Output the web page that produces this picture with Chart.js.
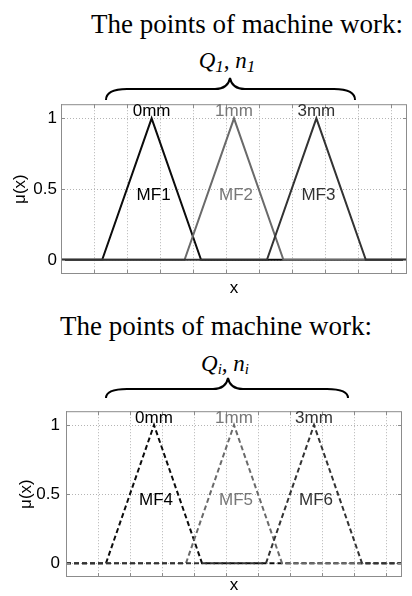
<!DOCTYPE html>
<html>
<head>
<meta charset="utf-8">
<script src="https://cdn.jsdelivr.net/npm/chart.js@4"></script>
<style>
  html, body { margin: 0; padding: 0; background: #fff; }
  #wrap { position: relative; width: 412px; height: 596px; overflow: hidden; }
  canvas { position: absolute; left: 0; }
  #c1 { top: 90px; }
  #c2 { top: 395px; }
  svg { position: absolute; left: 0; top: 0; }
</style>
</head>
<body>
<div id="wrap">
  <svg width="412" height="596" font-family="Liberation Serif" fill="#000">
    <text x="247" y="33" text-anchor="middle" font-size="27">The points of machine work:</text>
    <text x="227" y="68" text-anchor="middle" font-size="23" font-style="italic">Q<tspan font-size="17" dy="4">1</tspan><tspan dy="-4">, n</tspan><tspan font-size="17" dy="4">1</tspan></text>
    <path d="M106,100 Q106,89 127,89 L215,89 Q228,89 230,78 Q232,89 245,89 L334,89 Q355,89 355,100" fill="none" stroke="#000" stroke-width="2"/>

    <text x="216" y="335" text-anchor="middle" font-size="27">The points of machine work:</text>
    <text x="225" y="371" text-anchor="middle" font-size="23" font-style="italic">Q<tspan font-size="15" dy="3">i</tspan><tspan dy="-3">, n</tspan><tspan font-size="15" dy="3">i</tspan></text>
    <path d="M106,398 Q106,389 127,389 L213,389 Q226,389 228,378 Q230,389 243,389 L327,389 Q348,389 348,398" fill="none" stroke="#000" stroke-width="2"/>
  </svg>
  <canvas id="c1" width="412" height="210"></canvas>
  <canvas id="c2" width="412" height="201"></canvas>
</div>
<script>
// x range of the membership plots
var xMin = 0;
var xMax = 10.5;
var xGrid = [0, 1, 2, 3, 4, 5, 6, 7, 8, 9, 10];
var yTicks = [0, 0.5, 1];

// triangular membership functions: start, peak, end
var mfStart = [1.25, 3.75, 6.25];
var mfPeak = [2.75, 5.25, 7.75];
var mfEnd = [4.25, 6.75, 9.25];

var peakLabels = ['0mm', '1mm', '3mm'];
var namesTop = ['MF1', 'MF2', 'MF3'];
var namesBottom = ['MF4', 'MF5', 'MF6'];

var lineColors = ['#0c0c0c', '#6a6a6a', '#333333'];
var textColors = ['#000000', '#777777', '#333333'];
var sans = '"Liberation Sans", Arial, sans-serif';

var decor = {
  id: 'decor',
  beforeDatasetsDraw: function(chart) {
    // dotted grid, MATLAB style
    var ctx = chart.ctx, a = chart.chartArea;
    var x = chart.scales.x, y = chart.scales.y;
    ctx.save();
    ctx.strokeStyle = '#b4b4b4';
    ctx.lineWidth = 1;
    ctx.setLineDash([1, 2]);
    ctx.beginPath();
    x.ticks.forEach(function(t) {
      var px = Math.round(x.getPixelForValue(t.value)) + 0.5;
      ctx.moveTo(px, a.top); ctx.lineTo(px, a.bottom);
    });
    y.ticks.forEach(function(t) {
      var py = Math.round(y.getPixelForValue(t.value)) + 0.5;
      ctx.moveTo(a.left, py); ctx.lineTo(a.right, py);
    });
    ctx.stroke();
    ctx.restore();
  },
  afterDatasetsDraw: function(chart, args, opts) {
    var ctx = chart.ctx, a = chart.chartArea;
    var x = chart.scales.x, y = chart.scales.y;
    ctx.save();
    ctx.strokeStyle = '#8c8c8c';
    ctx.lineWidth = 1;
    ctx.strokeRect(a.left + 0.5, a.top + 0.5, a.width - 1, a.height - 1);
    ctx.beginPath();
    x.ticks.forEach(function(t) {
      var px = Math.round(x.getPixelForValue(t.value)) + 0.5;
      ctx.moveTo(px, a.bottom); ctx.lineTo(px, a.bottom - 4);
      ctx.moveTo(px, a.top); ctx.lineTo(px, a.top + 4);
    });
    y.ticks.forEach(function(t) {
      var py = Math.round(y.getPixelForValue(t.value)) + 0.5;
      ctx.moveTo(a.left, py); ctx.lineTo(a.left + 4, py);
      ctx.moveTo(a.right, py); ctx.lineTo(a.right - 4, py);
    });
    ctx.stroke();

    ctx.font = '17px ' + sans;
    ctx.textAlign = 'center';
    ctx.textBaseline = 'middle';
    for (var i = 0; i < 3; i++) {
      ctx.fillStyle = textColors[i];
      var px = x.getPixelForValue(mfPeak[i]);
      ctx.fillText(peakLabels[i], px, y.getPixelForValue(1.05));
      ctx.fillText(opts.names[i], px + 2, y.getPixelForValue(0.455));
    }
    ctx.restore();
  }
};

function makeChart(id, names, dash, box) {
  var datasets = [];
  for (var i = 0; i < 3; i++) {
    datasets.push({
      label: names[i],
      data: [
        {x: xMin, y: 0},
        {x: mfStart[i], y: 0},
        {x: mfPeak[i], y: 1},
        {x: mfEnd[i], y: 0},
        {x: xMax, y: 0}
      ],
      borderColor: lineColors[i],
      borderWidth: 2,
      borderDash: dash,
      pointRadius: 0,
      tension: 0,
      fill: false,
      order: 2 - i
    });
  }
  return new Chart(document.getElementById(id), {
    type: 'line',
    data: { datasets: datasets },
    options: {
      responsive: false,
      animation: false,
      layout: { padding: { top: box.top, right: box.right, bottom: 0, left: 0 } },
      plugins: { legend: { display: false }, tooltip: { enabled: false }, decor: { names: names } },
      scales: {
        x: {
          type: 'linear', min: xMin, max: xMax,
          afterBuildTicks: function(s) { s.ticks = xGrid.map(function(v) { return {value: v}; }); },
          afterFit: function(s) { s.height = box.xh; },
          ticks: { display: false },
          grid: { display: false, drawTicks: false },
          border: { display: false },
          title: { display: true, text: 'x', color: '#000', padding: { top: 0, bottom: box.xpad },
                   font: { family: sans, size: 17 } }
        },
        y: {
          type: 'linear', min: -0.1, max: 1.1,
          afterBuildTicks: function(s) { s.ticks = yTicks.map(function(v) { return {value: v}; }); },
          afterFit: function(s) { s.width = box.yw; },
          ticks: { color: '#000', padding: box.ypad,
                   callback: function(v) { return String(v); },
                   font: { family: sans, size: 17 } },
          grid: { display: false, drawTicks: false },
          border: { display: false },
          title: { display: true, text: 'μ(x)', color: '#000', padding: { top: box.tpad, bottom: 0 },
                   font: { family: sans, size: 17 } }
        }
      }
    },
    plugins: [decor]
  });
}

makeChart('c1', namesTop, [], { top: 9, right: 5, xh: 26, xpad: 1, yw: 61, ypad: 4, tpad: 10 });
makeChart('c2', namesBottom, [5, 3], { top: 11, right: 10, xh: 19, xpad: 0, yw: 66, ypad: 6, tpad: 16 });
</script>
</body>
</html>
